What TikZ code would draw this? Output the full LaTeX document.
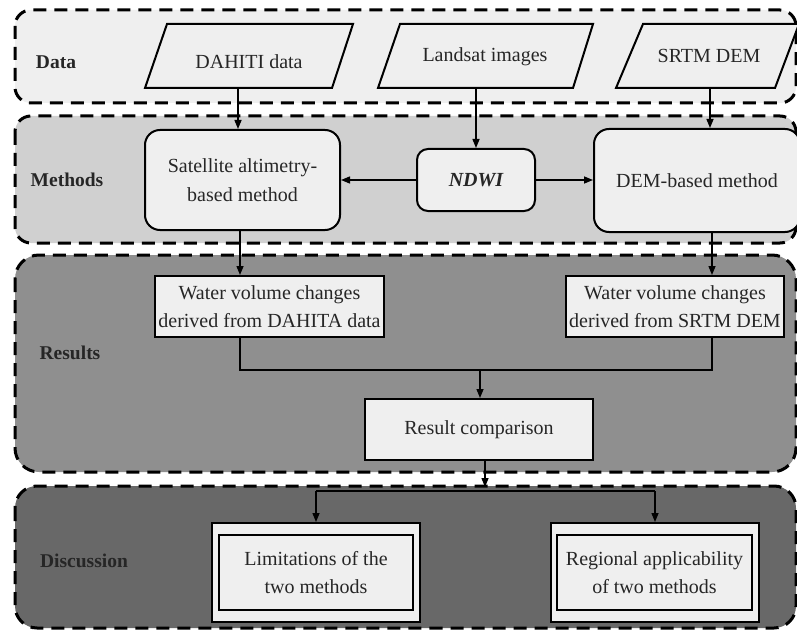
\documentclass[tikz,border=0pt]{standalone}
\usepackage{fontspec}
\setmainfont{Liberation Serif}
\usetikzlibrary{arrows.meta,calc}
\definecolor{bandA}{HTML}{EFEFEF}
\definecolor{bandB}{HTML}{D0D0D0}
\definecolor{bandC}{HTML}{8F8F8F}
\definecolor{bandD}{HTML}{686868}
\definecolor{boxfill}{HTML}{EFEFEF}
\begin{document}
\begin{tikzpicture}[x=1pt,y=-1pt,
  band/.style={draw=black,line width=3pt,dash pattern=on 13pt off 8pt},
  txt/.style={font=\fontsize{20}{28.5}\selectfont,align=center,text=black!85},
  lbl/.style={font=\fontsize{19.5}{24}\selectfont\bfseries,text=black!85},
  para/.style={draw=black,line width=2pt,fill=boxfill,line join=miter},
  rbox/.style={draw=black,line width=2pt,fill=boxfill,rounded corners=15pt,inner sep=0pt,txt},
  sbox/.style={draw=black,line width=2pt,fill=boxfill,inner sep=0pt,txt},
  arr/.style={line width=1.4pt,-{Triangle[length=9pt,width=7pt]}},
  ln/.style={line width=1.4pt}]
\useasboundingbox (0,0) rectangle (797,631);
\clip (0,0) rectangle (797,631);
\fill[white] (0,0) rectangle (797,631);

% bands
\draw[band,fill=bandA,rounded corners=16pt] (15,10) rectangle (796,103);
\draw[band,fill=bandB,rounded corners=16pt] (15,116) rectangle (796,243);
\draw[band,fill=bandC,rounded corners=24pt] (15,255) rectangle (796,472);
\draw[band,fill=bandD,rounded corners=22pt] (15,486) rectangle (796,628);

% band labels
\node[lbl] (ldata) at (56,62) {Data};
\node[lbl] (lmeth) at (67,180) {Methods};
\node[lbl] (lres) at (70,353) {Results};
\node[lbl] (ldisc) at (84,561) {Discussion};

% data parallelograms
\draw[para] (167,24) -- (353,24) -- (332,88) -- (145,88) -- cycle;
\node[txt,anchor=base] (dahiti) at (249,69) {DAHITI data};
\draw[para] (400,24) -- (593,24) -- (573,88) -- (378,88) -- cycle;
\node[txt,anchor=base] (landsat) at (485,62) {Landsat images};
\draw[para] (643,24) -- (799,24) -- (775,88) -- (616,88) -- cycle;
\node[txt,anchor=base] (srtm) at (709,63) {SRTM DEM};
\coordinate (dahitiB) at (238,88);
\coordinate (landsatB) at (476,88);
\coordinate (srtmB) at (710,88);

% methods
\node[rbox,minimum width=195pt,minimum height=100pt] (sat) at (242.5,180) {Satellite altimetry-\\based method};
\node[rbox,rounded corners=11pt,minimum width=118pt,minimum height=62pt] (ndwi) at (476,180) {\bfseries\itshape NDWI};
\node[rbox,minimum width=206pt,minimum height=103pt] (dem) at (697,180.5) {DEM-based method};

\draw[arr] (dahitiB) -- (dahitiB |- sat.north);
\draw[arr] (landsatB) -- (landsatB |- ndwi.north);
\draw[arr] (srtmB) -- (srtmB |- dem.north);
\draw[arr] (ndwi.west) -- (sat.east |- ndwi.west);
\draw[arr] (ndwi.east) -- (dem.west |- ndwi.east);

% results
\node[sbox,minimum width=229pt,minimum height=61pt] (wd) at (269.5,306.5) {Water volume changes\\derived from DAHITA data};
\node[sbox,minimum width=218pt,minimum height=61pt] (ws) at (675,306.5) {Water volume changes\\derived from SRTM DEM};
\coordinate (satB) at (240,230);
\coordinate (demB) at (712,232);
\draw[arr] (satB) -- (satB |- wd.north);
\draw[arr] (demB) -- (demB |- ws.north);

\node[sbox,minimum width=228pt,minimum height=61pt] (rc) at (479,429.5) {Result comparison};
\coordinate (join) at (480,370);
\draw[ln] (wd.south -| satB) |- (join) -| (ws.south -| demB);
\draw[arr] (join) -- (join |- rc.north);

% discussion
\node[sbox,minimum width=208pt,minimum height=99pt] (lim) at (316,572.5) {};
\node[sbox,minimum width=194pt,minimum height=75pt] (limin) at (316,572.5) {Limitations of the\\two methods};
\node[sbox,minimum width=208pt,minimum height=99pt] (reg) at (655,572.5) {};
\node[sbox,minimum width=195pt,minimum height=75pt] (regin) at (654.5,572.5) {Regional applicability\\of two methods};

\coordinate (rcB) at (485,460);
\coordinate (split) at (485,487);
\coordinate (bar) at (485,491);
\draw[arr] (rcB) -- (split);
\draw[ln] (lim.north |- bar) -- (reg.north |- bar);
\draw[arr] (lim.north |- bar) -- (lim.north);
\draw[arr] (reg.north |- bar) -- (reg.north);
\end{tikzpicture}
\end{document}
